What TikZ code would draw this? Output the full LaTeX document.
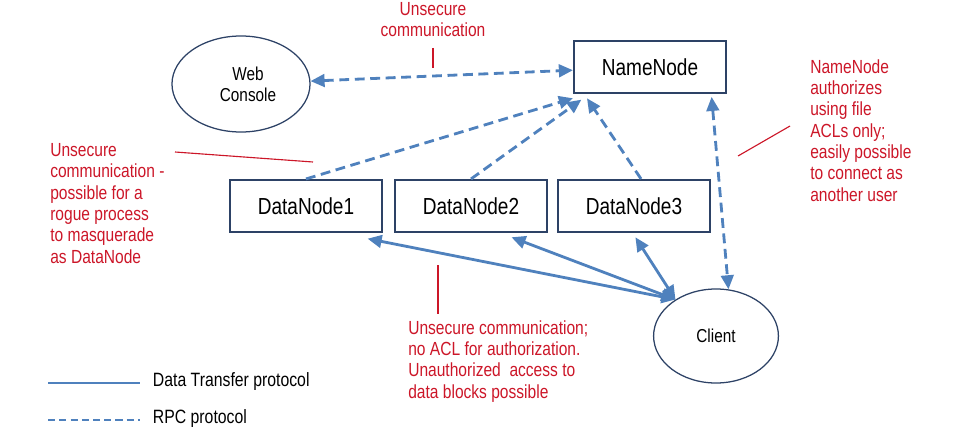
\documentclass[tikz,border=0pt]{standalone}
\usepackage{fontspec}
\setmainfont{Liberation Sans}[FakeStretch=0.82]
\usetikzlibrary{arrows.meta,shapes.geometric}
\definecolor{arrowblue}{RGB}{79,129,189}
\definecolor{boxblue}{RGB}{45,66,102}
\definecolor{notered}{RGB}{204,22,40}

\tikzset{
  box/.style={draw=boxblue,line width=1.5pt,minimum width=3.8cm,minimum height=1.3cm,font=\fontsize{16.5}{18}\selectfont},
  oval/.style={ellipse,draw=boxblue,line width=0.9pt,font=\fontsize{13.3}{15}\selectfont,align=center},
  note/.style={text=notered,align=left,inner sep=0pt,font=\fontsize{13.5}{15.2}\selectfont},
  legendtext/.style={anchor=west,font=\fontsize{13.7}{15}\selectfont},
  pointer/.style={draw=notered,line width=0.8pt},
  bluetip/.tip={Triangle[length=10pt,width=9pt]},
  rpc/.style={draw=arrowblue,line width=2pt,dash pattern=on 7pt off 4pt},
  datatransfer/.style={draw=arrowblue,line width=2pt},
}

\begin{document}
\begin{tikzpicture}[x=0.025cm,y=-0.025cm]
  \useasboundingbox (0,0) rectangle (958,440);
  % nodes
  \node[oval,minimum width=3.45cm,minimum height=2.4cm] (web) at (241,84) {\hspace*{10pt}Web\\\hspace*{10pt}Console};
  \node[box] (nn) at (650,67) {NameNode};
  \node[box] (dn1) at (306,206) {DataNode1};
  \node[box] (dn2) at (471,206) {DataNode2};
  \node[box] (dn3) at (634,206) {DataNode3};
  \node[oval,minimum width=3.12cm,minimum height=2.35cm] (client) at (716,336) {Client};
  % rpc
  \draw[rpc,bluetip-bluetip] (web) -- (nn);
  \draw[rpc,-bluetip] (dn1.north) -- ([yshift=-3pt]nn.south west);
  \draw[rpc,-bluetip] (dn2.north) -- ([xshift=6pt,yshift=-4pt]nn.south west);
  \draw[rpc,-bluetip] ([xshift=5pt]dn3.north) -- ([xshift=10pt,yshift=-3pt]nn.south west);
  \draw[rpc,bluetip-bluetip] ([xshift=-11pt,yshift=-2pt]nn.south east) -- (client.75);
  % data transfer
  \coordinate (cl) at (client.138);
  \draw[datatransfer,bluetip-bluetip] ([xshift=-11pt,yshift=-4pt]dn1.south east) -- (cl);
  \draw[datatransfer,bluetip-bluetip] ([xshift=-26pt,yshift=-3pt]dn2.south east) -- (cl);
  \draw[datatransfer,bluetip-bluetip] ([xshift=1pt,yshift=-3pt]dn3.south) -- (cl);
  % notes
  \node[note,align=center,anchor=north] (n1) at (433,2) {Unsecure\\communication};
  \coordinate (p1a) at (433,48);
  \coordinate (p1b) at (433,68);
  \draw[pointer] (p1a) -- (p1b);
  \node[note,anchor=north west] (n2) at (50,143) {Unsecure\\communication -\\possible for a\\rogue process\\to masquerade\\as DataNode};
  \coordinate (p2a) at (175,152);
  \coordinate (p2b) at (313,162);
  \draw[pointer] (p2a) -- (p2b);
  \node[note,anchor=north west] (n3) at (810,59) {NameNode\\authorizes\\using file\\ACLs only;\\easily possible\\to connect as\\another user};
  \coordinate (p3a) at (738,156);
  \coordinate (p3b) at (790,126);
  \draw[pointer] (p3a) -- (p3b);
  \node[note,anchor=north west] (n4) at (408,320) {Unsecure communication;\\no ACL for authorization.\\Unauthorized\ \ access to\\data blocks possible};
  \coordinate (p4a) at (438,265);
  \coordinate (p4b) at (438,314);
  \draw[pointer] (p4a) -- (p4b);
  % legend
  \coordinate (l1a) at (48,383);
  \coordinate (l1b) at (140,383);
  \draw[datatransfer,line width=1.5pt] (l1a) -- (l1b);
  \node[legendtext] (leg1) at (148,382) {Data Transfer protocol};
  \coordinate (l2a) at (48,420);
  \coordinate (l2b) at (140,420);
  \draw[rpc,line width=1.5pt,dash pattern=on 5pt off 3pt] (l2a) -- (l2b);
  \node[legendtext] (leg2) at (148,419) {RPC protocol};
\end{tikzpicture}
\end{document}
